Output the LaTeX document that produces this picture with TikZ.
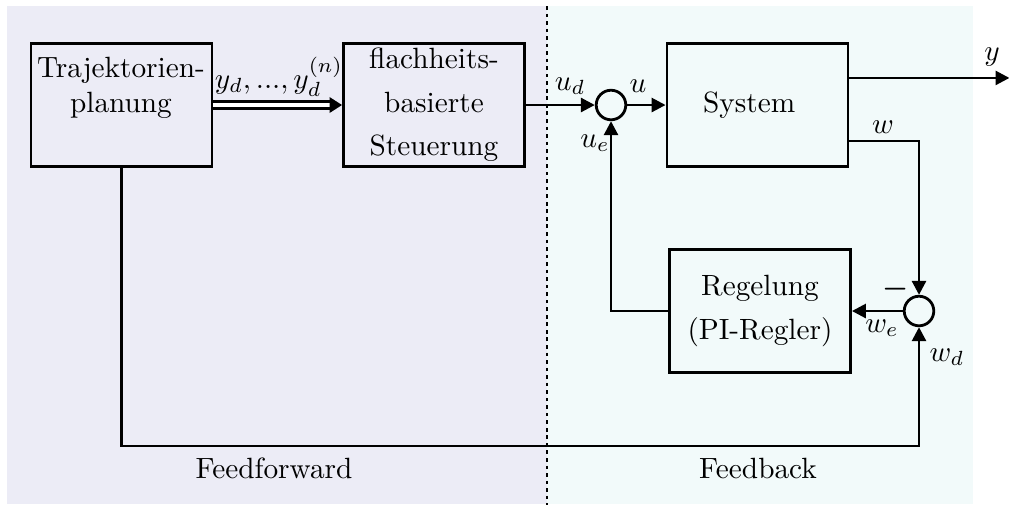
\RequirePackage{fix-cm}
\documentclass[tikz,border=0pt]{standalone}
\usetikzlibrary{arrows.meta}
\definecolor{ffbg}{RGB}{236,236,246}
\definecolor{fbbg}{RGB}{242,250,250}
\begin{document}
\begin{tikzpicture}[x=0.3584pt,y=-0.3584pt,
 every node/.style={font=\fontsize{10.5pt}{12.6pt}\selectfont},
 blk/.style={draw, line width=1pt, minimum width=64.9pt, minimum height=44.2pt, inner sep=0pt, align=center},
 sumc/.style={draw, circle, line width=1pt, minimum size=10.6pt, inner sep=0pt},
 tip/.style={-{Triangle[length=5pt,width=5pt]}},
 sig/.style={line width=1pt, tip},
 lbl/.style={inner sep=0pt}]
\useasboundingbox (0,0) rectangle (1009,505);
\fill[ffbg] (7,6) rectangle (547,504);
\fill[fbbg] (547,6) rectangle (973,504);
\draw[line width=0.9pt, dash pattern=on 1.3pt off 1.4pt] (547,6) -- (547,505);

\node[blk] (traj) at (121.5,105) {};
\node[lbl, align=center] (trajt) at (121,88) {Trajektorien-\\planung};
\node[blk] (flach) at (434,105) {flachheits-\\[3pt]basierte\\[3pt]Steuerung};
\node[blk] (sys) at (757.5,105) {System\hspace{6pt}};
\node[blk] (reg) at (760,311) {Regelung\\[3pt](PI-Regler)};
\node[sumc] (s1) at (611,105) {};
\node[sumc] (s2) at (919,311) {};
\coordinate (bot) at (0,446);

\draw[line width=0.9pt, double, double distance=1.5pt, -{Triangle[length=4.5pt,width=5.5pt]}] (traj) -- (flach);
\draw[sig] (flach) -- (s1);
\draw[sig] (s1) -- (sys);
\draw[sig] ([yshift=9.7pt]sys.east) -- +(160,0);
\draw[sig] ([yshift=-12.9pt]sys.east) -| (s2.north);
\draw[sig] (s2) -- (reg);
\draw[sig] (reg.west) -| (s1.south);
\draw[sig] (traj.south) -- (traj.south |- bot) -| (s2.south);

\node[lbl] at (279,77) {$y_d, ..., y_d^{(n)}$};
\node[lbl] at (992,57) {$y$};
\node[lbl] at (570,86) {$u_d$};
\node[lbl] at (638,86) {$u$};
\node[lbl] at (595,143) {$u_e$};
\node[lbl] at (883,127) {$w$};
\node[lbl] at (882,328) {$w_e$};
\node[lbl] at (947,357) {$w_d$};
\node[lbl, font=\fontsize{10.5pt}{12.6pt}\selectfont\boldmath] at (896,289) {$-$};
\node at (274,468) {Feedforward};
\node at (758,468) {Feedback};
\end{tikzpicture}
\end{document}
